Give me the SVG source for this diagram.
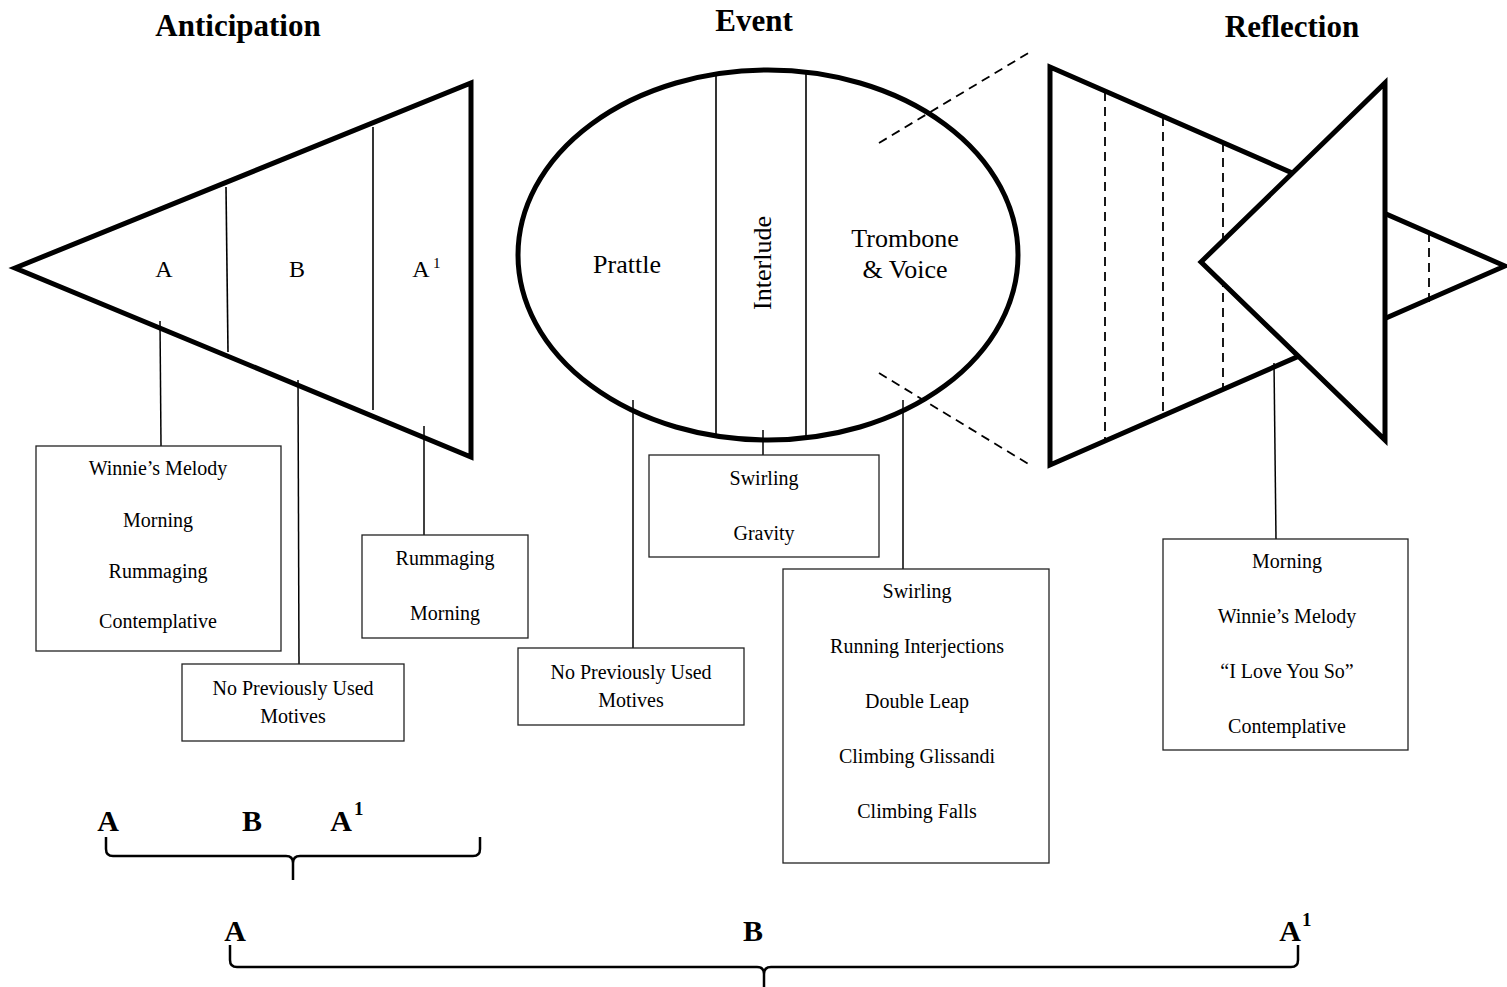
<svg xmlns="http://www.w3.org/2000/svg" width="1507" height="987" viewBox="0 0 1507 987">
  <style>
    text { font-family: "Liberation Serif", "Times New Roman", serif; fill: #000; }
    .title { font-size: 31px; font-weight: bold; text-anchor: middle; }
    .big { font-size: 26px; text-anchor: middle; }
    .sec { font-size: 24px; text-anchor: middle; }
    .item { font-size: 20px; text-anchor: middle; }
    .form { font-size: 30px; font-weight: bold; text-anchor: middle; }
    .sup { font-size: 19px; font-weight: bold; }
    .shape { fill: #fff; stroke: #000; stroke-width: 5; stroke-linejoin: miter; stroke-miterlimit: 10; }
    .div { stroke: #000; stroke-width: 1.6; fill: none; }
    .dash { stroke: #000; stroke-width: 1.8; stroke-dasharray: 9 6; fill: none; }
    .box { fill: #fff; stroke: #222; stroke-width: 1.3; }
    .link { stroke: #000; stroke-width: 1.5; fill: none; }
    .brace { stroke: #000; stroke-width: 2.5; fill: none; }
  </style>

  <rect width="1507" height="987" fill="#fff"/>

  <!-- section titles -->
  <g id="titles">
    <text class="title" x="238" y="36">Anticipation</text>
    <text class="title" x="754" y="31">Event</text>
    <text class="title" x="1292" y="37">Reflection</text>
  </g>

  <!-- Anticipation: left-pointing wedge -->
  <g id="anticipation">
    <polygon class="shape" points="15,268 471,83 471,457"/>
    <line class="div" x1="226" y1="187" x2="228" y2="352"/>
    <line class="div" x1="373" y1="127" x2="373" y2="410"/>
    <text class="sec" x="164" y="277">A</text>
    <text class="sec" x="297" y="277">B</text>
    <text class="sec" x="421" y="277">A</text>
    <text x="433" y="268" style="font-size:15px">1</text>
  </g>

  <!-- Event: ellipse split into three parts -->
  <g id="event">
    <ellipse class="shape" cx="768" cy="255" rx="250" ry="185"/>
    <line class="div" x1="716" y1="72" x2="716" y2="436"/>
    <line class="div" x1="806" y1="71" x2="806" y2="437"/>
    <text class="big" x="627" y="273">Prattle</text>
    <text class="big" transform="translate(771,263) rotate(-90)">Interlude</text>
    <text class="big" x="905" y="247">Trombone</text>
    <text class="big" x="905" y="278">&amp; Voice</text>
  </g>

  <!-- Reflection: wedge with an inverted wedge laid over it -->
  <g id="reflection">
    <polygon class="shape" points="1050,67 1505,266 1050,465"/>
    <line class="dash" x1="1105" y1="92" x2="1105" y2="441"/>
    <line class="dash" x1="1163" y1="117" x2="1163" y2="416"/>
    <line class="dash" x1="1223" y1="143" x2="1223" y2="391"/>
    <line class="dash" x1="1429" y1="233" x2="1429" y2="302"/>
    <polygon class="shape" points="1201,262 1385,83 1385,440"/>
  </g>

  <!-- connectors -->
  <g id="connectors">
    <line class="dash" x1="879" y1="143" x2="1030" y2="52"/>
    <line class="dash" x1="879" y1="373" x2="1030" y2="465"/>
    <line class="link" x1="160" y1="321" x2="161" y2="446"/>
    <line class="link" x1="298" y1="380" x2="299" y2="664"/>
    <line class="link" x1="424" y1="426" x2="424" y2="535"/>
    <line class="link" x1="633" y1="400" x2="633" y2="648"/>
    <line class="link" x1="763" y1="430" x2="763" y2="455"/>
    <line class="link" x1="903" y1="400" x2="903" y2="569"/>
    <line class="link" x1="1274" y1="363" x2="1276" y2="539"/>
  </g>

  <!-- motive boxes -->
  <g id="box-a">
    <rect class="box" x="36" y="446" width="245" height="205"/>
    <text class="item" x="158" y="475">Winnie’s Melody</text>
    <text class="item" x="158" y="527">Morning</text>
    <text class="item" x="158" y="578">Rummaging</text>
    <text class="item" x="158" y="628">Contemplative</text>
  </g>
  <g id="box-b">
    <rect class="box" x="182" y="664" width="222" height="77"/>
    <text class="item" x="293" y="695">No Previously Used</text>
    <text class="item" x="293" y="723">Motives</text>
  </g>
  <g id="box-a1">
    <rect class="box" x="362" y="535" width="166" height="103"/>
    <text class="item" x="445" y="565">Rummaging</text>
    <text class="item" x="445" y="620">Morning</text>
  </g>
  <g id="box-prattle">
    <rect class="box" x="518" y="648" width="226" height="77"/>
    <text class="item" x="631" y="679">No Previously Used</text>
    <text class="item" x="631" y="707">Motives</text>
  </g>
  <g id="box-interlude">
    <rect class="box" x="649" y="455" width="230" height="102"/>
    <text class="item" x="764" y="485">Swirling</text>
    <text class="item" x="764" y="540">Gravity</text>
  </g>
  <g id="box-trombone">
    <rect class="box" x="783" y="569" width="266" height="294"/>
    <text class="item" x="917" y="598">Swirling</text>
    <text class="item" x="917" y="653">Running Interjections</text>
    <text class="item" x="917" y="708">Double Leap</text>
    <text class="item" x="917" y="763">Climbing Glissandi</text>
    <text class="item" x="917" y="818">Climbing Falls</text>
  </g>
  <g id="box-reflection">
    <rect class="box" x="1163" y="539" width="245" height="211"/>
    <text class="item" x="1287" y="568">Morning</text>
    <text class="item" x="1287" y="623">Winnie’s Melody</text>
    <text class="item" x="1287" y="678">“I Love You So”</text>
    <text class="item" x="1287" y="733">Contemplative</text>
  </g>

  <!-- small-scale form -->
  <g id="form-small">
    <text class="form" x="108" y="831">A</text>
    <text class="form" x="252" y="831">B</text>
    <text class="form" x="341" y="831">A</text>
    <text class="sup" x="354" y="815">1</text>
    <path class="brace" d="M106,837 V849 Q106,856 113,856 H286 Q293,856 293,863 V880 M293,863 Q293,856 300,856 H473 Q480,856 480,849 V837"/>
  </g>

  <!-- large-scale form -->
  <g id="form-large">
    <text class="form" x="235" y="941">A</text>
    <text class="form" x="753" y="941">B</text>
    <text class="form" x="1290" y="941">A</text>
    <text class="sup" x="1302" y="926">1</text>
    <path class="brace" d="M230,945 V960 Q230,967 237,967 H757 Q764,967 764,974 V987 M764,974 Q764,967 771,967 H1291 Q1298,967 1298,960 V945"/>
  </g>
</svg>
